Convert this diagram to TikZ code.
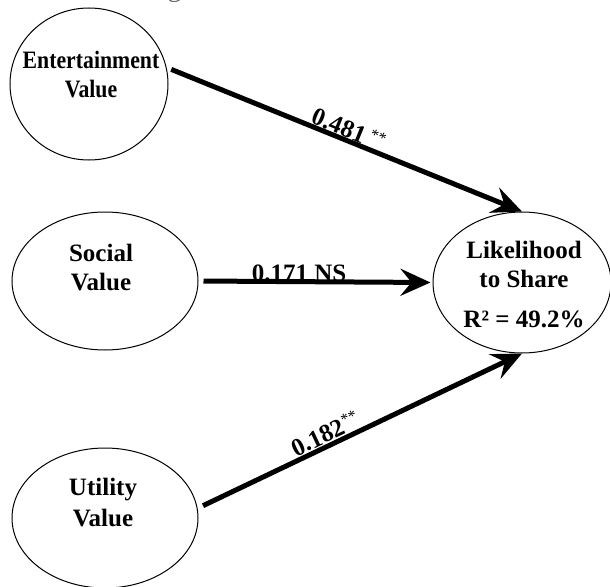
\documentclass[tikz,border=0pt]{standalone}
\usepackage{fontspec}
\setmainfont{Liberation Serif}
\usetikzlibrary{shapes.geometric,arrows.meta}
\tikzset{
  construct/.style={ellipse,draw=black,line width=1pt,inner sep=0pt},
  ctext/.style={anchor=base,inner sep=0pt,font=\fontsize{25}{29}\selectfont\bfseries},
  path arrow/.style={line width=5pt,-{Stealth[length=30pt,width=27pt,inset=11pt]}},
  coef/.style={inner sep=1pt,font=\fontsize{25}{28}\selectfont\bfseries},
}
\newcommand{\sigstars}{{\normalfont\fontsize{16}{16}\selectfont\raisebox{8pt}{**}}}
\begin{document}
\begin{tikzpicture}[x=1pt,y=-1pt]
\useasboundingbox (0,0) rectangle (610,586);
% cut-off title
\node[anchor=base west,inner sep=0pt,text=black!60,font=\fontsize{28}{30}\selectfont] (title) at (144,-3) {Figure 1. Structural Model};
% constructs
\node[construct,minimum width=158pt,minimum height=152pt] (ent) at (89,84) {};
\node[construct,minimum width=186pt,minimum height=138pt] (soc) at (105,281) {};
\node[construct,minimum width=186pt,minimum height=140pt] (util) at (105,518) {};
\node[construct,minimum width=178pt,minimum height=141pt] (lik) at (522,282.5) {};
% construct texts
\node[ctext] (entT) at (91,68) {\scalebox{0.87}[1]{\begin{tabular}[t]{@{}c@{}}Entertainment\\Value\end{tabular}}};
\node[ctext] (socT) at (101,261) {\begin{tabular}[t]{@{}c@{}}Social\\Value\end{tabular}};
\node[ctext] (utilT) at (103,495) {\begin{tabular}[t]{@{}c@{}}Utility\\[2pt]Value\end{tabular}};
\node[ctext] (likT) at (524,258) {\begin{tabular}[t]{@{}c@{}}Likelihood\\to Share\\[11pt]R² = 49.2\%\end{tabular}};
% coefficient labels (under the lines)
\path (ent.12) -- (lik.north) node[coef,pos=0.5,sloped,above=1pt] (c1) {0.481\,\sigstars};
\path (soc.east) -- (lik.west) node[coef,pos=0.43,anchor=base,inner sep=0pt] (c2) {0.171 NS};
\path (util.6) -- (lik.south) node[coef,pos=0.41,sloped,above=2pt] (c3) {0.182\sigstars};
% paths
\draw[path arrow,shorten <=5pt] (ent.12) -- (lik.north);
\draw[path arrow,shorten <=5pt,shorten >=2pt] (soc.east) -- (lik.west);
\draw[path arrow,shorten <=6pt] (util.6) -- (lik.south);
\end{tikzpicture}
\end{document}
